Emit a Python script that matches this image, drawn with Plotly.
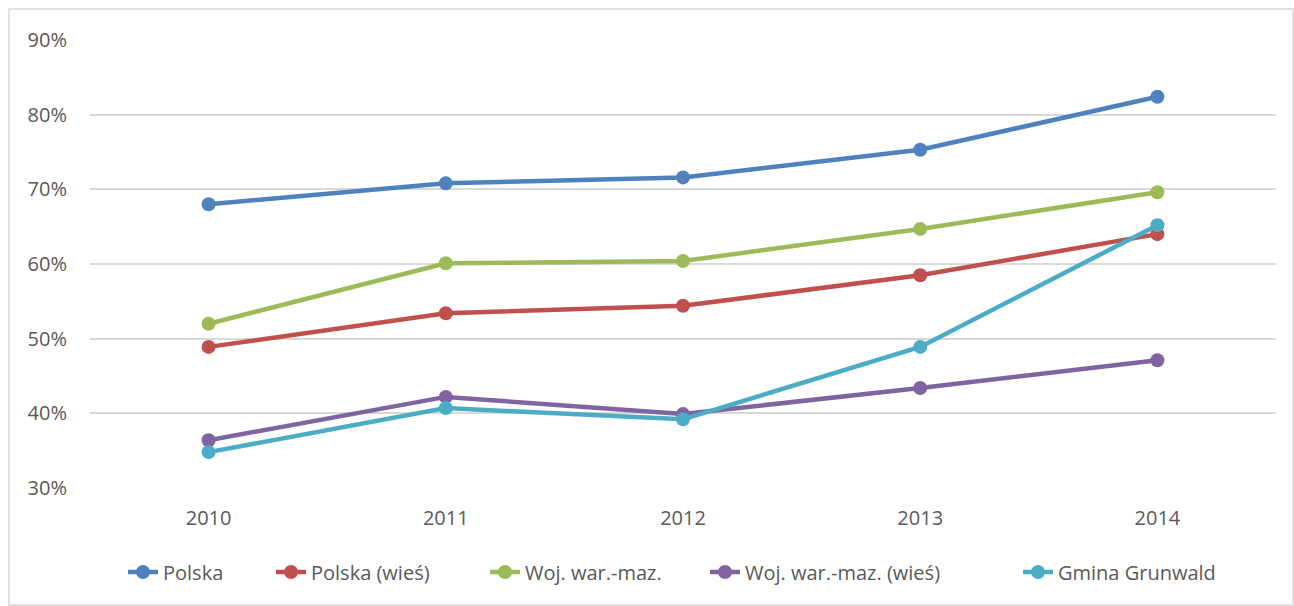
import plotly.graph_objects as go

years = ["2010", "2011", "2012", "2013", "2014"]
polska = [68.0, 70.8, 71.6, 75.3, 82.4]
polska_wies = [48.9, 53.4, 54.4, 58.5, 64.0]
woj = [52.0, 60.1, 60.4, 64.7, 69.6]
woj_wies = [36.4, 42.2, 39.9, 43.4, 47.1]
gmina = [34.8, 40.7, 39.2, 48.9, 65.2]

series = [
    ("Polska", polska, "#4F81BD"),
    ("Polska (wieś)", polska_wies, "#C0504D"),
    ("Woj. war.-maz.", woj, "#9BBB59"),
    ("Woj. war.-maz. (wieś)", woj_wies, "#8064A2"),
    ("Gmina Grunwald", gmina, "#4BACC6"),
]
legend_text_left = [163, 311, 525, 745, 1058]

W, H = 1294, 606
L, R, T, B = 90, 18, 40, 118
pw, ph = W - L - R, H - T - B

def px_x(p):
    return (p - L) / pw

def px_y(p):
    return (T + ph - p) / ph

fig = go.Figure()
legends = {}
for i, (name, vals, col) in enumerate(series):
    lname = "legend" if i == 0 else f"legend{i + 1}"
    fig.add_trace(go.Scatter(
        x=years, y=[v / 100 for v in vals], name=name, mode="lines+markers",
        line=dict(color=col, width=4.5), marker=dict(color=col, size=14),
        legend=lname,
    ))
    legends[lname] = dict(
        orientation="h", x=px_x(legend_text_left[i] - 40), xanchor="left",
        y=px_y(572), yanchor="middle", bgcolor="rgba(0,0,0,0)",
        font=dict(size=20, family="Open Sans, sans-serif", color="#595959"),
    )

fig.update_layout(
    width=W, height=H,
    margin=dict(l=L, r=R, t=T, b=B),
    paper_bgcolor="white", plot_bgcolor="white",
    font=dict(family="Open Sans, sans-serif", color="#595959", size=18),
    showlegend=True,
    xaxis=dict(type="category", range=[-0.5, 4.5], showgrid=False, showline=False,
               zeroline=False, ticks="", ticklabelstandoff=16, tickfont=dict(size=20)),
    yaxis=dict(range=[0.3, 0.9], dtick=0.1, tickformat=".0%", showgrid=True,
               gridcolor="#D9D9D9", gridwidth=1.5, zeroline=False, showline=False,
               ticks="", ticklabelstandoff=22, tickfont=dict(size=20)),
    shapes=[dict(type="rect", xref="paper", yref="paper",
                 x0=px_x(9), x1=px_x(W - 1), y0=px_y(H - 1), y1=px_y(9),
                 line=dict(color="#D9D9D9", width=1.5), fillcolor="rgba(0,0,0,0)", layer="below")],
    **legends,
)

fig.write_html("out.html", config={"displayModeBar": False},
               post_script="document.body.style.margin='0';")
